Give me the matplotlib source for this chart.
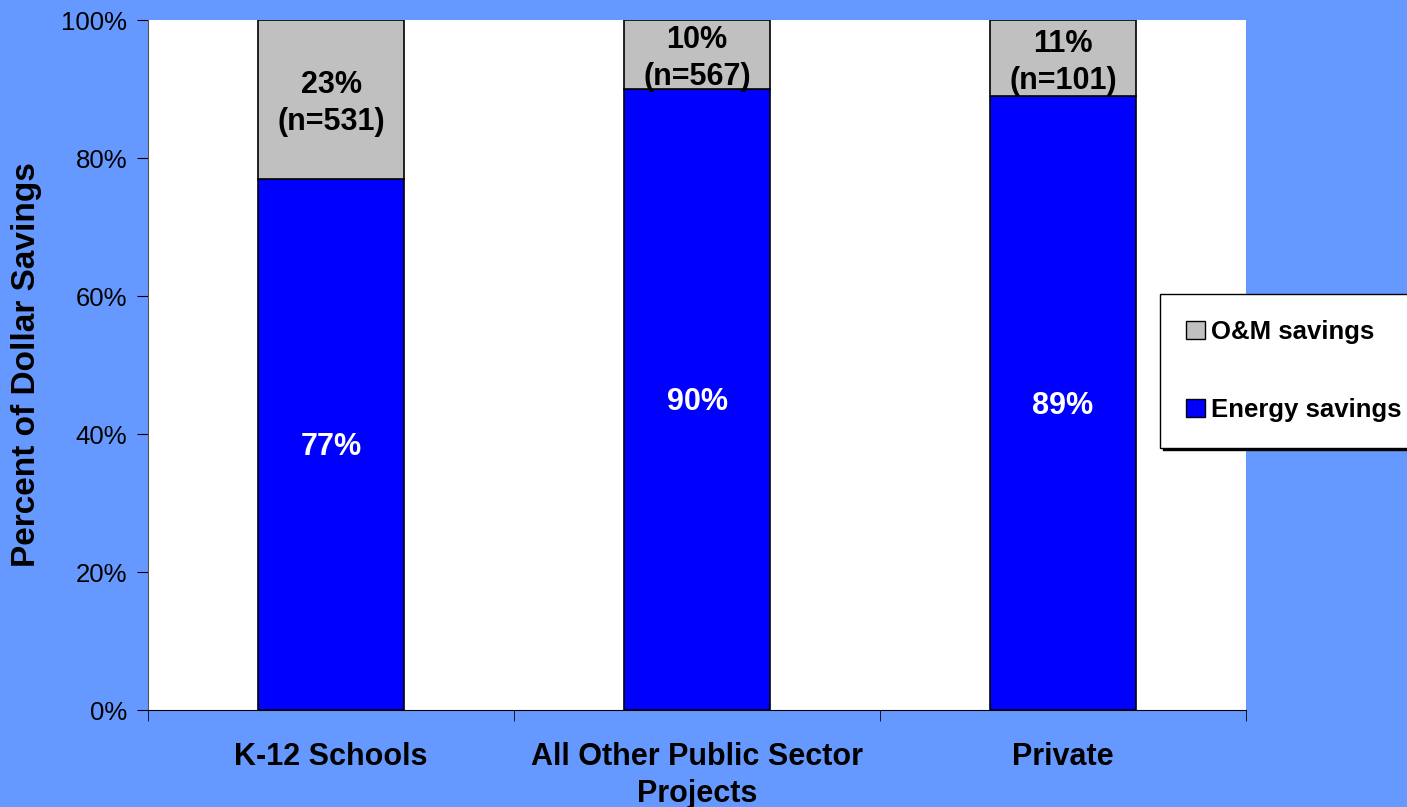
import numpy as np
import matplotlib.pyplot as plt
from matplotlib.patches import Patch
from matplotlib.ticker import FixedLocator, PercentFormatter

plt.rcParams['font.family'] = ['Liberation Sans', 'DejaVu Sans']

# Données
categories = ["K-12 Schools", "All Other Public Sector\nProjects", "Private"]
energy = [77, 90, 89]
om = [23, 10, 11]
n_values = [531, 567, 101]

bg = "#6699FF"
blue = "#0000FF"
grey = "#C0C0C0"

fig = plt.figure(figsize=(14.07, 8.07), dpi=100, facecolor=bg)
ax = fig.add_axes([148 / 1407, 1 - 710 / 807, 1098 / 1407, 690 / 807])
ax.set_facecolor("white")

x = np.arange(len(categories))
ax.bar(x, energy, width=0.40, color=blue, edgecolor="black", linewidth=1.2)
ax.bar(x, om, width=0.40, bottom=energy, color=grey, edgecolor="black", linewidth=1.2)

# Étiquettes des segments
for i in range(len(categories)):
    ax.annotate(f"{energy[i]}%", (x[i], energy[i] / 2), xytext=(0, -2),
                textcoords="offset points", ha="center", va="center",
                color="white", fontsize=22, fontweight="bold")
    ax.annotate(f"{om[i]}%\n(n={n_values[i]})", (x[i], energy[i] + om[i] / 2),
                xytext=(0, -3), textcoords="offset points", ha="center",
                va="center", color="black", fontsize=22, fontweight="bold",
                linespacing=1.3)

ax.set_xlim(-0.5, len(categories) - 0.5)
ax.set_ylim(0, 100)
ax.yaxis.set_major_locator(FixedLocator([0, 20, 40, 60, 80, 100]))
ax.yaxis.set_major_formatter(PercentFormatter(decimals=0))
ax.tick_params(axis="y", labelsize=18.5, direction="out", length=8, pad=7)

ax.set_xticks(x)
ax.set_xticklabels(categories, fontsize=22, fontweight="bold", linespacing=1.3)
ax.tick_params(axis="x", which="major", length=0, pad=23)
ax.set_xticks(np.arange(-0.5, len(categories)), minor=True)
ax.tick_params(axis="x", which="minor", direction="out", length=8)

ax.set_ylabel("Percent of Dollar Savings", fontsize=24, fontweight="bold", labelpad=14)

for s in ["top", "right"]:
    ax.spines[s].set_visible(False)
ax.spines["left"].set_color("#555555")

handles = [Patch(facecolor=grey, edgecolor="black", label="O&M savings"),
           Patch(facecolor=blue, edgecolor="black", label="Energy savings")]
leg = fig.legend(handles=handles, loc="center left",
                 bbox_to_anchor=(1160 / 1407, 1 - 371 / 807),
                 prop={"size": 18.5, "weight": "bold"}, labelspacing=2.1,
                 handlelength=0.75, handleheight=0.75, handletextpad=0.25,
                 borderpad=1.0, borderaxespad=0, fancybox=False, framealpha=1,
                 shadow={"color": "black", "alpha": 1})
leg.get_frame().set_edgecolor("black")
leg.get_frame().set_linewidth(1.0)

fig.savefig("out.png", dpi=100, facecolor=bg)
